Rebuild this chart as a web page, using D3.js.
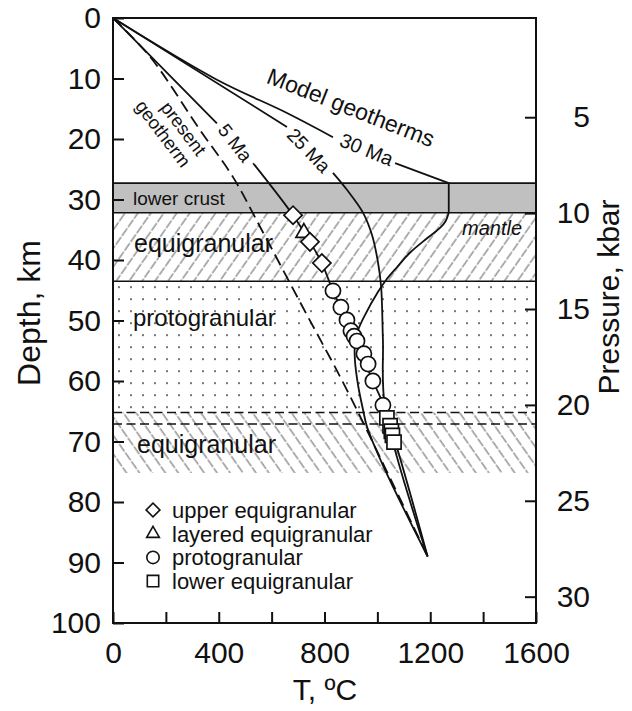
<!DOCTYPE html>
<html>
<head>
<meta charset="utf-8">
<script src="https://cdn.jsdelivr.net/npm/d3@7"></script>
<style>
  html, body { margin: 0; padding: 0; background: #fff; }
  svg { display: block; font-family: "Liberation Sans", Arial, Helvetica, sans-serif; }
</style>
</head>
<body>
<svg id="chart" width="632" height="711"></svg>
<script>
// ---- axis ticks ----
const depthTicks = [0, 10, 20, 30, 40, 50, 60, 70, 80, 90, 100];        // km
const tempTicks = [0, 200, 400, 600, 800, 1000, 1200, 1400, 1600];      // °C
const tempLabels = [0, 400, 800, 1200, 1600];
const pressureTicks = [5, 10, 15, 20, 25, 30];                          // kbar
// depth (km) = pressureOffset + pressureGradient * P (kbar)
const pressureOffset = 0.55;
const pressureGradient = 3.17;

// ---- lithological layers (depth, km) ----
const layerNames = ["lower crust", "equigranular", "protogranular", "equigranular"];
const layerTop = [27.3, 32.2, 43.5, 65.2];
const layerBottom = [32.2, 43.5, 65.2, 75.2];
const solidBoundaries = [27.3, 32.2, 43.5];
const dashedBoundaries = [65.2, 67.1];

// ---- geotherms: [T °C, depth km]; null = break for a label ----
const presentGeotherm = [[0, 0], [140, 6.4], [329, 18.5], [454, 26.3], [556, 34.5],
  [719, 47.9], [885, 61.5], [1190, 89]];
const geotherm5Ma = [[0, 0], [393, 17.4], null, [530, 24.0], [681, 32.6], [745, 37.0],
  [790, 40.5], [832, 45.1], [908, 52.1], [983, 60.0], [1025, 64.2], [1190, 89]];
const geotherm25Ma = [[0, 0], [658, 18.0], null, [832, 25.6], [885, 28.4], [946, 32.2],
  [980, 35.9], [1002, 40.3], [1014, 44.3], [1021, 53.2], [1029, 64.3], [1190, 89]];
const geotherm30MaCrust = [[0, 0], [393, 10.2], [658, 15.7], [832, 19.7]];
const geotherm30MaMoho = [[1067, 24.0], [1270, 27.3], [1270, 32.2]];
const geotherm30MaMantle = [[1270, 32.2], [1258, 33.6], [1237, 34.7], [1188, 36.4],
  [1123, 38.8], [1074, 41.2], [1033, 43.3], [1002, 45.3], [953, 49.1], [927, 51.6],
  [915, 54.0], [915, 56.5], [927, 60.7], [946, 64.8], [961, 67.6], [1029, 74.7], [1190, 89]];

// ---- xenolith equilibration estimates: [T °C, depth km] ----
const upperEquigranular = [[681, 32.6], [745, 37.0], [790, 40.5]];
const layeredEquigranular = [[722, 35.5]];
const protogranular = [[832, 45.1], [862, 47.8], [885, 49.9], [900, 51.7], [912, 52.6],
  [923, 53.4], [949, 55.5], [965, 57.2], [983, 60.0], [1021, 64.0]];
const lowerEquigranular = [[1036, 66.1], [1048, 67.4], [1053, 68.3], [1057, 69.0], [1063, 70.1]];

const legendLabels = ["upper equigranular", "layered equigranular", "protogranular", "lower equigranular"];

// ---------------------------------------------------------------
const svg = d3.select("#chart");
const plot = { left: 113, right: 536, top: 18, bottom: 623 };

const x = d3.scaleLinear().domain([0, 1600]).range([plot.left, plot.right]);
const y = d3.scaleLinear().domain([0, 100]).range([plot.top, plot.bottom]);
const yP = d3.scaleLinear()
  .domain([(0 - pressureOffset) / pressureGradient, (100 - pressureOffset) / pressureGradient])
  .range([plot.top, plot.bottom]);

const ink = "#111";
const defs = svg.append("defs");

defs.append("clipPath").attr("id", "plotClip")
  .append("rect")
  .attr("x", plot.left).attr("y", plot.top)
  .attr("width", plot.right - plot.left).attr("height", plot.bottom - plot.top);

function hatch(id, angle) {
  const p = defs.append("pattern").attr("id", id)
    .attr("patternUnits", "userSpaceOnUse")
    .attr("width", 10.6).attr("height", 10.6)
    .attr("patternTransform", `rotate(${angle})`);
  p.append("line").attr("x1", 2).attr("y1", 0).attr("x2", 2).attr("y2", 10.6)
    .attr("stroke", "#555").attr("stroke-width", 0.95)
    .attr("stroke-dasharray", "6.6,1.5");
}
hatch("hatchUp", 35);
hatch("hatchDown", -35);

const dots = defs.append("pattern").attr("id", "dots")
  .attr("patternUnits", "userSpaceOnUse")
  .attr("x", plot.left).attr("y", y(43.5))
  .attr("width", 12).attr("height", 12);
dots.append("circle").attr("cx", 6).attr("cy", 6).attr("r", 1.1).attr("fill", "#555");

const layerFills = ["#c0c0c0", "url(#hatchUp)", "url(#dots)", "url(#hatchDown)"];

const body = svg.append("g").attr("clip-path", "url(#plotClip)");

// layer bands
body.selectAll("rect.layer")
  .data(layerNames)
  .join("rect")
  .attr("class", "layer")
  .attr("x", plot.left)
  .attr("width", plot.right - plot.left)
  .attr("y", (d, i) => y(layerTop[i]))
  .attr("height", (d, i) => y(layerBottom[i]) - y(layerTop[i]))
  .attr("fill", (d, i) => layerFills[i]);

body.selectAll("line.solidB")
  .data(solidBoundaries)
  .join("line")
  .attr("x1", plot.left).attr("x2", plot.right)
  .attr("y1", d => y(d)).attr("y2", d => y(d))
  .attr("stroke", ink).attr("stroke-width", 1.6);

body.selectAll("line.dashB")
  .data(dashedBoundaries)
  .join("line")
  .attr("x1", plot.left).attr("x2", plot.right)
  .attr("y1", d => y(d)).attr("y2", d => y(d))
  .attr("stroke", ink).attr("stroke-width", 1.5)
  .attr("stroke-dasharray", "9,4.5");

// geotherm curves
const smooth = d3.line()
  .defined(d => d !== null)
  .x(d => x(d[0])).y(d => y(d[1]))
  .curve(d3.curveCatmullRom.alpha(0.5));
const straight = d3.line()
  .defined(d => d !== null)
  .x(d => x(d[0])).y(d => y(d[1]));

const curves = [
  { data: presentGeotherm, gen: smooth, dash: "12,6" },
  { data: geotherm5Ma, gen: smooth },
  { data: geotherm25Ma, gen: smooth },
  { data: geotherm30MaCrust, gen: smooth },
  { data: geotherm30MaMoho, gen: straight },
  { data: geotherm30MaMantle, gen: smooth }
];
body.selectAll("path.geotherm")
  .data(curves)
  .join("path")
  .attr("class", "geotherm")
  .attr("d", d => d.gen(d.data))
  .attr("fill", "none")
  .attr("stroke", ink)
  .attr("stroke-width", 1.8)
  .attr("stroke-linejoin", "round")
  .attr("stroke-dasharray", d => d.dash || null);

// sample symbols
const symbolDefs = [
  { data: layeredEquigranular, type: d3.symbolTriangle, size: 110, legendSize: 70, rot: 0 },
  { data: upperEquigranular, type: d3.symbolSquare, size: 165, legendSize: 95, rot: 45 },
  { data: protogranular, type: d3.symbolCircle, size: 180, legendSize: 120, rot: 0 },
  { data: lowerEquigranular, type: d3.symbolSquare, size: 200, legendSize: 130, rot: 0 }
];
symbolDefs.forEach(s => {
  body.append("g").selectAll("path")
    .data(s.data)
    .join("path")
    .attr("transform", d => `translate(${x(d[0])},${y(d[1])}) rotate(${s.rot})`)
    .attr("d", d3.symbol().type(s.type).size(s.size))
    .attr("fill", "#fff")
    .attr("stroke", ink)
    .attr("stroke-width", 1.7);
});

// frame
svg.append("rect")
  .attr("x", plot.left).attr("y", plot.top)
  .attr("width", plot.right - plot.left).attr("height", plot.bottom - plot.top)
  .attr("fill", "none").attr("stroke", ink).attr("stroke-width", 2);

// axes
function styleAxis(g) {
  g.select(".domain").remove();
  g.selectAll(".tick line").attr("stroke", ink).attr("stroke-width", 2);
  g.selectAll(".tick text").attr("fill", ink).attr("font-size", 30)
    .attr("font-family", "Liberation Sans, Arial, sans-serif");
}
svg.append("g")
  .attr("transform", `translate(${plot.left},0)`)
  .call(d3.axisLeft(y).tickValues(depthTicks).tickSize(-11).tickPadding(12))
  .call(styleAxis);

svg.append("g")
  .attr("transform", `translate(0,${plot.bottom})`)
  .call(d3.axisBottom(x).tickValues(tempTicks).tickSize(-11).tickPadding(19)
    .tickFormat(d => tempLabels.includes(d) ? d : ""))
  .call(styleAxis);

svg.append("g")
  .attr("transform", `translate(${plot.right},0)`)
  .call(d3.axisRight(yP).tickValues(pressureTicks).tickSize(-11).tickPadding(12))
  .call(styleAxis)
  .call(g => g.selectAll(".tick text").attr("text-anchor", "end").attr("x", 54));

// axis titles
svg.append("text")
  .attr("transform", "translate(40,313) rotate(-90)")
  .attr("text-anchor", "middle").attr("font-size", 32).attr("fill", ink)
  .text("Depth, km");
svg.append("text")
  .attr("transform", "translate(619,297) rotate(-90)")
  .attr("text-anchor", "middle").attr("font-size", 30).attr("fill", ink)
  .text("Pressure, kbar");
svg.append("text")
  .attr("x", 325).attr("y", 700)
  .attr("text-anchor", "middle").attr("font-size", 30).attr("fill", ink)
  .text("T, ºC");

// curve annotations
function note(txt, px, py, angle, size, opts = {}) {
  svg.append("text")
    .attr("transform", `translate(${px},${py}) rotate(${angle})`)
    .attr("text-anchor", opts.anchor || "middle")
    .attr("font-size", size)
    .attr("font-style", opts.italic ? "italic" : null)
    .attr("fill", ink)
    .attr("y", opts.dy || 0)
    .text(txt);
}
note("Model geotherms", 348, 115, 21.5, 23);
note("30 Ma", 364, 156, 22, 20);
note("25 Ma", 304, 155, 46, 19);
note("5 Ma", 230, 147, 52, 19);
note("present", 197, 157, 53, 18.5, { anchor: "end" });
note("geotherm", 197, 157, 53, 18.5, { anchor: "end", dy: 19.5 });

// layer labels
note("lower crust", 133, 205, 0, 19, { anchor: "start" });
note("equigranular", 134, 252, 0, 25, { anchor: "start" });
note("mantle", 462, 235, 0, 20, { anchor: "start", italic: true });
note("protogranular", 133, 326, 0, 24, { anchor: "start" });
note("equigranular", 137, 453, 0, 25, { anchor: "start" });

// legend
const legendOrder = [1, 0, 2, 3];
const legend = svg.append("g").attr("transform", "translate(153,510)");
legendLabels.forEach((lab, i) => {
  const s = symbolDefs[legendOrder[i]];
  const row = legend.append("g").attr("transform", `translate(0,${i * 23.7})`);
  row.append("path")
    .attr("transform", `rotate(${s.rot})`)
    .attr("d", d3.symbol().type(s.type).size(s.legendSize))
    .attr("fill", "#fff").attr("stroke", ink).attr("stroke-width", 1.6);
  row.append("text")
    .attr("x", 19).attr("y", 8)
    .attr("font-size", 22).attr("fill", ink)
    .text(lab);
});
</script>
</body>
</html>
